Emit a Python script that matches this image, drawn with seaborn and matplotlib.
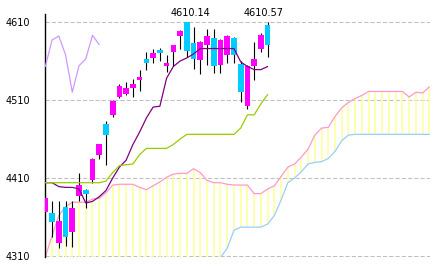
import numpy as np
import pandas as pd
import matplotlib
matplotlib.use("Agg")
import matplotlib.pyplot as plt
import seaborn as sns

# ---- data ----
open_ = [4366, 4365, 4327, 4373, 4341, 4387, 4395, 4408, 4439, 4479,
         4491, 4514, 4518, 4526, 4536, 4563, 4564, 4574, 4553, 4571,
         4592.5, 4610, 4583, 4561, 4580, 4590, 4555, 4568, 4590, 4556,
         4502, 4554, 4575, 4606]
high = [4387, 4381, 4380, 4380, 4380, 4416, 4396, 4436, 4454, 4483,
        4510, 4530, 4533, 4537, 4548, 4571, 4575, 4577, 4568, 4581,
        4600, 4610.14, 4604, 4586, 4601, 4601, 4588, 4593, 4591, 4560,
        4555, 4584, 4596, 4610.57]
low = [4364, 4334, 4320, 4323, 4322, 4380, 4372, 4404, 4434, 4427,
       4488, 4513, 4516, 4514, 4522, 4548, 4557, 4560, 4546, 4554,
       4576, 4565, 4550, 4544, 4555, 4545, 4545, 4558, 4557, 4508,
       4499, 4536, 4572, 4565]
close = [4385, 4353, 4355, 4335, 4371, 4401, 4390, 4434, 4453, 4465,
         4509, 4528, 4526, 4531, 4539, 4557, 4570, 4570, 4558, 4580.5,
         4599, 4573, 4563, 4584, 4592, 4553, 4587, 4592, 4568, 4520,
         4554, 4562.6, 4593, 4581]
tenkan = [4404, 4404, 4399, 4398, 4398, 4396, 4378, 4380, 4386, 4394,
          4410, 4424, 4433, 4453, 4469, 4487, 4501, 4502, 4538, 4553,
          4560, 4564, 4569, 4576, 4576, 4576, 4576, 4576, 4576, 4559,
          4553, 4549, 4549, 4553]
kijun = [4404, 4404, 4404, 4404, 4404, 4404, 4404, 4404, 4404, 4406,
         4417, 4426, 4427, 4428, 4440, 4448, 4448, 4448, 4448, 4453,
         4460, 4466, 4466, 4466, 4466, 4466, 4466, 4466, 4466, 4474,
         4491, 4491, 4505, 4517]
span_a = [4309, 4336, 4362, 4373, 4379, 4379, 4379, 4383, 4384, 4391,
          4401, 4402, 4402, 4402, 4398, 4395, 4400, 4405, 4411, 4415,
          4416, 4416, 4422, 4417, 4407, 4404, 4404, 4402, 4401, 4401,
          4401, 4390, 4390, 4396, 4400, 4412, 4424, 4428, 4437, 4447,
          4465, 4474, 4475, 4489, 4500, 4507, 4512, 4516, 4521, 4521,
          4521, 4521, 4521, 4521, 4514, 4520, 4519, 4527]
span_b = [4300, 4300, 4300, 4300, 4300, 4300, 4300, 4300, 4300, 4300,
          4300, 4300, 4300, 4300, 4300, 4300, 4300, 4300, 4300, 4300,
          4300, 4300, 4300, 4300, 4300, 4300, 4308, 4320, 4343, 4347,
          4347, 4347, 4347, 4351, 4362, 4382, 4404, 4410, 4418, 4428,
          4430, 4431, 4435, 4444, 4458, 4465, 4466, 4466, 4466, 4466,
          4466, 4466, 4466, 4466, 4466, 4466, 4466, 4466]
chikou_shift = 25
y_ticks = [4310, 4410, 4510, 4610]
label_idx = [21, 33]

# ---- frames ----
n = len(close)
candles = pd.DataFrame({"i": np.arange(n), "open": open_, "high": high,
                        "low": low, "close": close,
                        "tenkan": tenkan, "kijun": kijun})
cloud = pd.DataFrame({"i": np.arange(len(span_a)), "a": span_a, "b": span_b})
chikou = pd.DataFrame({"i": np.arange(n - chikou_shift),
                       "v": close[chikou_shift:]})

sns.set_style("white")
plt.rcParams['font.family'] = ['DejaVu Sans']

W, H = 434, 270
fig = plt.figure(figsize=(W / 100, H / 100), dpi=100)
ax = fig.add_axes([45 / W, (H - 256.8) / H, 385 / W, 242.8 / H])

# cloud (vertical yellow lines)
ax.vlines(cloud["i"], cloud["b"], cloud["a"], color="#ffff99", lw=1.1, zorder=1)
sns.lineplot(data=cloud, x="i", y="a", color="#ff99cc", lw=0.9, ax=ax,
             estimator=None, sort=False, zorder=2)
sns.lineplot(data=cloud, x="i", y="b", color="#99ccff", lw=0.9, ax=ax,
             estimator=None, sort=False, zorder=2)

# candles
up = candles["close"] >= candles["open"]
colors = np.where(up, "#ff00ff", "#00ccff")
ax.vlines(candles["i"], candles["low"], candles["high"], color="black",
          lw=0.8, zorder=3)
body_lo = np.minimum(candles["open"], candles["close"])
body_h = np.abs(candles["close"] - candles["open"])
ax.bar(candles["i"], body_h, bottom=body_lo, width=0.84, color=colors,
       linewidth=0, zorder=4)

# lines
sns.lineplot(data=chikou, x="i", y="v", color="#cc99ff", lw=0.9, ax=ax,
             estimator=None, sort=False, zorder=5)
sns.lineplot(data=candles, x="i", y="tenkan", color="#800080", lw=0.9, ax=ax,
             estimator=None, sort=False, zorder=5)
sns.lineplot(data=candles, x="i", y="kijun", color="#99cc00", lw=0.9, ax=ax,
             estimator=None, sort=False, zorder=6)

# annotations of highs
for k, dx in zip(label_idx, [2.7, -2.7]):
    ax.annotate(f"{high[k]:.2f}", xy=(k, high[k]), xytext=(dx, 4),
                textcoords="offset points", ha="center", va="baseline",
                fontsize=7, color="black", annotation_clip=False)

# axes styling
ax.set_xlim(-0.05, 57.1)
ax.set_ylim(4309, 4620.3)
ax.set_yticks(y_ticks)
ax.set_yticklabels([str(t) for t in y_ticks])
ax.set_xticks([])
ax.set_xlabel("")
ax.set_ylabel("")
ax.yaxis.grid(True, color="#c0c0c0", ls=(0, (4, 2)), lw=0.75)
ax.xaxis.grid(False)
ax.set_axisbelow(True)
for s in ["top", "right", "bottom"]:
    ax.spines[s].set_visible(False)
ax.spines["left"].set_color("black")
ax.spines["left"].set_linewidth(1.0)
ax.tick_params(axis="y", direction="in", length=3, width=1, pad=11,
               labelsize=7, colors="black")
ax.set_facecolor("white")
if ax.get_legend():
    ax.get_legend().remove()

fig.savefig("out.png", dpi=100, facecolor="white")
